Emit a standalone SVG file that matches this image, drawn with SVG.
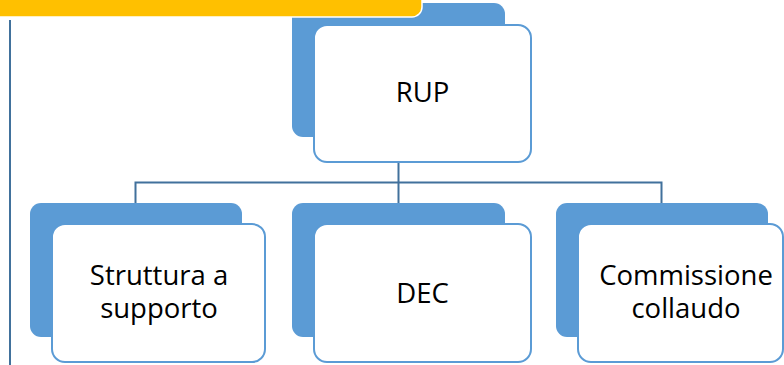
<svg xmlns="http://www.w3.org/2000/svg" width="784" height="365" viewBox="0 0 784 365">
  <style>
    .back { fill: #5B9BD5; }
    .front { fill: #FFFFFF; stroke: #5B9BD5; stroke-width: 2; }
    .label { font-family: "Open Sans", "Noto Sans", sans-serif; font-size: 27.5px; fill: #000000; text-anchor: middle; }
    .conn { fill: none; stroke: #41719C; stroke-width: 2; }
  </style>

  <!-- left rule -->
  <line x1="10" y1="20" x2="10" y2="365" stroke="#41719C" stroke-width="2"/>

  <!-- connectors -->
  <g id="connectors" class="conn">
    <path d="M398.5 137 V182.5"/>
    <path d="M135.5 205 V182.5 H661.5 V205"/>
    <path d="M398.5 182.5 V205"/>
  </g>

  <!-- RUP -->
  <g id="node-rup">
    <rect class="back" x="292" y="3" width="213" height="134" rx="11"/>
    <rect class="front" x="314" y="25" width="217" height="137" rx="13"/>
    <text class="label" x="422.5" y="102">RUP</text>
  </g>

  <!-- Struttura a supporto -->
  <g id="node-struttura">
    <rect class="back" x="30" y="203" width="212" height="134" rx="11"/>
    <rect class="front" x="52" y="224" width="213" height="138" rx="13"/>
    <text class="label" x="159" y="285">Struttura a</text>
    <text class="label" x="159" y="318">supporto</text>
  </g>

  <!-- DEC -->
  <g id="node-dec">
    <rect class="back" x="292" y="203" width="213" height="134" rx="11"/>
    <rect class="front" x="314" y="224" width="217" height="138" rx="13"/>
    <text class="label" x="422.5" y="303">DEC</text>
  </g>

  <!-- Commissione collaudo -->
  <g id="node-commissione">
    <rect class="back" x="556" y="203" width="212" height="134" rx="11"/>
    <rect class="front" x="578" y="224" width="205" height="138" rx="13"/>
    <text class="label" x="686" y="285">Commissione</text>
    <text class="label" x="686" y="318">collaudo</text>
  </g>

  <!-- title banner -->
  <g id="banner">
    <path d="M-5 -5 H422 V7 A10 10 0 0 1 412 17 H-5 Z" fill="#FFC000" stroke="#FFFFFF" stroke-width="1.5"/>
  </g>
</svg>
